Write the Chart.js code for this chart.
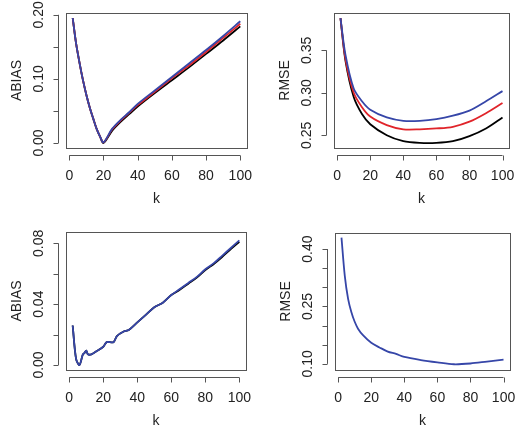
<!DOCTYPE html>
<html>
<head>
<script src="https://cdn.jsdelivr.net/npm/chart.js@4"></script>
<style>
  body { margin: 0; background: #fff; }
  .wrap { position: absolute; width: 260px; height: 213px; }
</style>
</head>
<body>
<div class="wrap" style="left:0;top:0"><canvas id="c1" width="260" height="213"></canvas></div>
<div class="wrap" style="left:260px;top:0"><canvas id="c2" width="260" height="213"></canvas></div>
<div class="wrap" style="left:0;top:214px"><canvas id="c3" width="260" height="213"></canvas></div>
<div class="wrap" style="left:260px;top:214px"><canvas id="c4" width="260" height="213"></canvas></div>
<script>
// k values for each panel
const kTop = [2, 4, 6, 8, 10, 12, 14, 16, 18, 20, 25, 30, 35, 40, 50, 60, 70, 80, 90, 100];
const abiasBlue  = [0.195, 0.155, 0.125, 0.098, 0.075, 0.055, 0.038, 0.022, 0.010, 0.001, 0.022, 0.036, 0.048, 0.061, 0.082, 0.103, 0.124, 0.145, 0.167, 0.190];
const abiasRed   = [0.195, 0.155, 0.125, 0.098, 0.075, 0.055, 0.038, 0.022, 0.010, 0.001, 0.021, 0.035, 0.047, 0.059, 0.080, 0.101, 0.121, 0.142, 0.164, 0.186];
const abiasBlack = [0.195, 0.155, 0.125, 0.098, 0.075, 0.055, 0.038, 0.022, 0.010, 0.000, 0.019, 0.033, 0.045, 0.057, 0.078, 0.098, 0.118, 0.139, 0.160, 0.182];

const kRmse = [2, 5, 10, 15, 20, 30, 40, 50, 60, 70, 80, 90, 100];
const rmseBlue  = [0.388, 0.345, 0.305, 0.290, 0.280, 0.271, 0.267, 0.267, 0.269, 0.273, 0.279, 0.290, 0.302];
const rmseRed   = [0.388, 0.340, 0.300, 0.283, 0.272, 0.262, 0.257, 0.257, 0.258, 0.260, 0.266, 0.276, 0.288];
const rmseBlack = [0.388, 0.338, 0.295, 0.275, 0.263, 0.250, 0.243, 0.241, 0.241, 0.243, 0.249, 0.258, 0.271];

const kB3 = [2, 4, 6, 8, 9, 10, 11, 13, 16, 20, 22, 26, 28, 32, 35, 40, 45, 50, 55, 60, 65, 70, 75, 80, 85, 90, 95, 100];
const abias2Blue  = [0.026, 0.004, 0.000, 0.007, 0.008, 0.0095, 0.007, 0.007, 0.009, 0.012, 0.015, 0.015, 0.019, 0.022, 0.023, 0.028, 0.033, 0.038, 0.041, 0.046, 0.050, 0.054, 0.058, 0.063, 0.067, 0.072, 0.077, 0.082];
const abias2Black = [0.026, 0.004, 0.000, 0.007, 0.008, 0.0095, 0.007, 0.007, 0.009, 0.012, 0.015, 0.015, 0.019, 0.022, 0.023, 0.028, 0.033, 0.038, 0.041, 0.046, 0.0495, 0.0535, 0.0575, 0.0625, 0.0665, 0.0712, 0.0762, 0.081];

const kB4 = [2, 4, 6, 8, 10, 12, 15, 20, 25, 30, 35, 40, 50, 60, 70, 80, 90, 100];
const rmse2Blue = [0.430, 0.330, 0.270, 0.235, 0.210, 0.192, 0.175, 0.155, 0.143, 0.132, 0.126, 0.118, 0.110, 0.104, 0.099, 0.101, 0.106, 0.111];

const xTicks = [0, 20, 40, 60, 80, 100];

const BLUE = "#3646a8", RED = "#e0242a", BLACK = "#000";
const FONT = "14px 'Liberation Sans', Arial, sans-serif";

// draws the R style box, axes and labels
const rAxes = {
  id: "rAxes",
  afterDraw(chart, args, o) {
    const { ctx, chartArea: a, scales } = chart;
    const x = scales.x, y = scales.y;
    ctx.save();
    ctx.strokeStyle = "#555";
    ctx.lineWidth = 1;
    ctx.strokeRect(a.left + 0.5, a.top + 0.5, a.right - a.left, a.bottom - a.top);
    ctx.fillStyle = "#222";
    ctx.font = FONT;
    // x axis
    const xb = a.bottom + 7.5;
    ctx.beginPath();
    ctx.moveTo(x.getPixelForValue(0), xb);
    ctx.lineTo(x.getPixelForValue(100), xb);
    xTicks.forEach(t => {
      const px = Math.round(x.getPixelForValue(t)) + 0.5;
      ctx.moveTo(px, xb); ctx.lineTo(px, xb + 5);
    });
    ctx.stroke();
    ctx.textAlign = "center"; ctx.textBaseline = "middle";
    xTicks.forEach(t => ctx.fillText(String(t), x.getPixelForValue(t), a.bottom + 28));
    ctx.fillText("k", (a.left + a.right) / 2, a.bottom + 51);
    // y axis
    const yl = a.left - 7.5;
    ctx.beginPath();
    ctx.moveTo(yl, y.getPixelForValue(o.ticks[0]));
    ctx.lineTo(yl, y.getPixelForValue(o.ticks[o.ticks.length - 1]));
    o.ticks.forEach(t => {
      const py = Math.round(y.getPixelForValue(t)) + 0.5;
      ctx.moveTo(yl, py); ctx.lineTo(yl - 5, py);
    });
    ctx.stroke();
    o.labels.forEach(t => {
      ctx.save();
      ctx.translate(a.left - 27, y.getPixelForValue(t));
      ctx.rotate(-Math.PI / 2);
      ctx.fillText(t.toFixed(2), 0, 0);
      ctx.restore();
    });
    ctx.save();
    ctx.translate(a.left - 49, (a.top + a.bottom) / 2);
    ctx.rotate(-Math.PI / 2);
    ctx.fillText(o.title, 0, 0);
    ctx.restore();
    ctx.restore();
  }
};

function series(ks, vals, color) {
  return {
    data: ks.map((k, i) => ({ x: k, y: vals[i] })),
    borderColor: color, borderWidth: 1.8, pointRadius: 0, tension: 0.3, fill: false
  };
}

// first dataset is drawn on top, so blue goes first
function panel(id, sets, pad, ymin, ymax, title, ticks, labels) {
  new Chart(document.getElementById(id), {
    type: "line",
    data: { datasets: sets },
    options: {
      responsive: false, animation: false,
      layout: { padding: pad },
      plugins: { legend: { display: false }, tooltip: { enabled: false },
        rAxes: { title, ticks, labels } },
      scales: {
        x: { type: "linear", min: -1.92, max: 103.92, display: false },
        y: { min: ymin, max: ymax, display: false }
      }
    },
    plugins: [rAxes]
  });
}

panel("c1", [series(kTop, abiasBlue, BLUE), series(kTop, abiasRed, RED), series(kTop, abiasBlack, BLACK)],
  { left: 66, top: 13, right: 13, bottom: 65 }, -0.0078, 0.2028, "ABIAS",
  [0, 0.05, 0.10, 0.15, 0.20], [0, 0.10, 0.20]);
panel("c2", [series(kRmse, rmseBlue, BLUE), series(kRmse, rmseRed, RED), series(kRmse, rmseBlack, BLACK)],
  { left: 74, top: 13, right: 11, bottom: 65 }, 0.235, 0.394, "RMSE",
  [0.25, 0.30, 0.35], [0.25, 0.30, 0.35]);
panel("c3", [series(kB3, abias2Blue, BLUE), series(kB3, abias2Black, BLACK)],
  { left: 66, top: 18, right: 14, bottom: 57 }, -0.0033, 0.0875, "ABIAS",
  [0, 0.02, 0.04, 0.06, 0.08], [0, 0.04, 0.08]);
panel("c4", [series(kB4, rmse2Blue, BLUE)],
  { left: 75, top: 19, right: 10, bottom: 57 }, 0.084, 0.442, "RMSE",
  [0.10, 0.15, 0.20, 0.25, 0.30, 0.35, 0.40], [0.10, 0.25, 0.40]);
</script>
</body>
</html>
